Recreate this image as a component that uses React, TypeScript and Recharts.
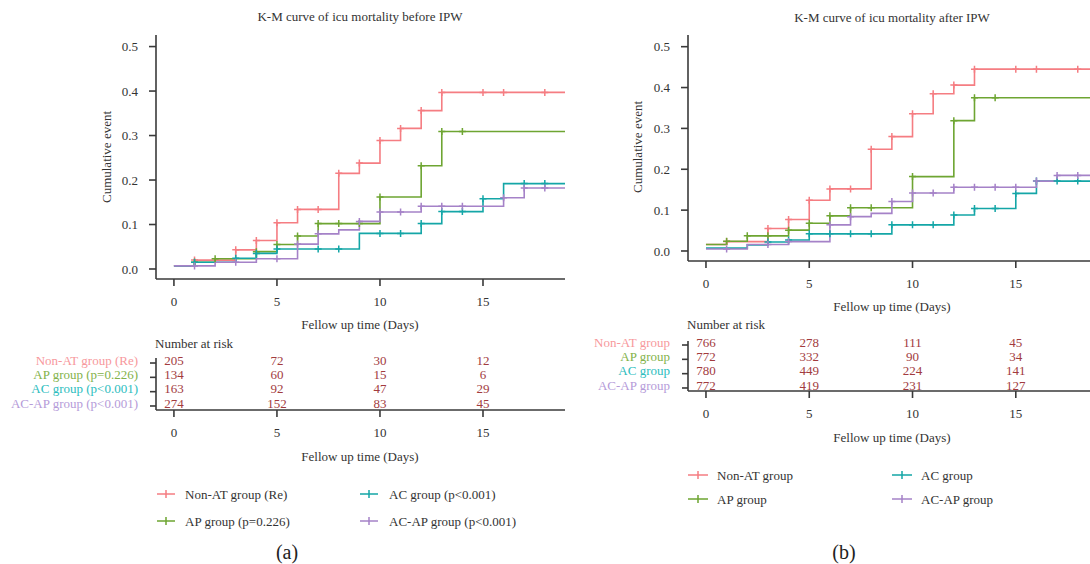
import React from 'react';
import { LineChart, Line, XAxis, YAxis, ScatterChart, Scatter } from 'recharts';

// ---------- data ----------
const GROUPS = ['Non-AT', 'AP', 'AC', 'AC-AP'];
const END_DAY = 19;
const X_TICKS = [0, 5, 10, 15];
const Y_TICKS = [0, 0.1, 0.2, 0.3, 0.4, 0.5];

// (a) before IPW: [day, cumulative event] at each step
const beforeNonAT: [number, number][] = [[0, 0.007], [1, 0.020], [3, 0.043], [4, 0.064], [5, 0.104], [6, 0.134], [8, 0.215], [9, 0.238], [10, 0.289], [11, 0.316], [12, 0.356], [13, 0.397]];
const beforeAP: [number, number][] = [[0, 0.007], [1, 0.015], [2, 0.023], [4, 0.039], [5, 0.055], [6, 0.074], [7, 0.102], [10, 0.162], [12, 0.232], [13, 0.309]];
const beforeAC: [number, number][] = [[0, 0.007], [1, 0.015], [3, 0.024], [4, 0.035], [5, 0.045], [9, 0.080], [12, 0.102], [13, 0.129], [15, 0.158], [16, 0.192]];
const beforeACAP: [number, number][] = [[0, 0.007], [2, 0.015], [4, 0.023], [6, 0.056], [7, 0.079], [8, 0.088], [9, 0.107], [10, 0.128], [12, 0.141], [16, 0.160], [17, 0.182]];
// censor marks (days)
const beforeNonATCens = [1, 3, 4, 5, 6, 7, 8, 9, 10, 11, 12, 13, 15, 16, 18];
const beforeAPCens = [1, 2, 4, 5, 6, 7, 8, 9, 10, 12, 13, 14];
const beforeACCens = [1, 3, 4, 5, 7, 8, 10, 11, 12, 13, 14, 15, 17, 18];
const beforeACAPCens = [1, 3, 5, 6, 7, 9, 10, 11, 12, 13, 14, 16, 17, 18];

// (b) after IPW
const afterNonAT: [number, number][] = [[0, 0.016], [1, 0.023], [3, 0.055], [4, 0.077], [5, 0.124], [6, 0.152], [8, 0.249], [9, 0.280], [10, 0.336], [11, 0.385], [12, 0.406], [13, 0.445]];
const afterAP: [number, number][] = [[0, 0.016], [1, 0.024], [2, 0.037], [4, 0.051], [5, 0.068], [6, 0.086], [7, 0.106], [10, 0.182], [12, 0.319], [13, 0.375]];
const afterAC: [number, number][] = [[0, 0.007], [2, 0.015], [3, 0.022], [4, 0.027], [5, 0.042], [9, 0.064], [12, 0.088], [13, 0.104], [15, 0.141], [16, 0.171]];
const afterACAP: [number, number][] = [[0, 0.005], [2, 0.016], [4, 0.023], [6, 0.064], [7, 0.084], [8, 0.092], [9, 0.121], [10, 0.142], [12, 0.156], [16, 0.171], [17, 0.185]];
const afterNonATCens = [1, 3, 4, 5, 6, 7, 8, 9, 10, 11, 12, 13, 15, 16, 18];
const afterAPCens = [1, 2, 3, 4, 5, 6, 7, 8, 10, 12, 13, 14];
const afterACCens = [3, 4, 5, 6, 7, 8, 9, 10, 11, 12, 13, 14, 15, 16, 17, 18];
const afterACAPCens = [1, 3, 4, 6, 7, 9, 10, 11, 12, 13, 14, 15, 16, 17, 18];

// number at risk
const riskDays = [0, 5, 10, 15];
const beforeRiskNonAT = [205, 72, 30, 12];
const beforeRiskAP = [134, 60, 15, 6];
const beforeRiskAC = [163, 92, 47, 29];
const beforeRiskACAP = [274, 152, 83, 45];
const afterRiskNonAT = [766, 278, 111, 45];
const afterRiskAP = [772, 332, 90, 34];
const afterRiskAC = [780, 449, 224, 141];
const afterRiskACAP = [772, 419, 231, 127];

const beforeLabels = ['Non-AT group (Re)', 'AP group (p=0.226)', 'AC group (p<0.001)', 'AC-AP group (p<0.001)'];
const afterLabels = ['Non-AT group', 'AP group', 'AC group', 'AC-AP group'];

// ---------- styles ----------
const FONT = '"Liberation Serif", "Times New Roman", serif';
const TEXT = '#333333';
const AXIS = '#3a3a3a';
const LINE_COLORS = ['#F57D82', '#6EA532', '#14A6A7', '#A582C8'];
const LABEL_COLORS = ['#F7989C', '#83B24A', '#2CBDBE', '#B59BD9'];
const RISK_COLOR = '#A23B3E';

type Pt = { day: number; v: number; c: boolean };

function buildCurve(steps: [number, number][], cens: number[]): Pt[] {
  const days = Array.from(new Set([...steps.map((s) => s[0]), ...cens, END_DAY])).sort((a, b) => a - b);
  return days.map((d) => {
    let v = steps[0][1];
    for (const s of steps) if (s[0] <= d) v = s[1];
    return { day: d, v, c: cens.includes(d) };
  });
}

function buildRisk(rows: number[][]) {
  const out: { day: number; row: number; n: number }[] = [];
  rows.forEach((vals, gi) => {
    vals.forEach((n, i) => out.push({ day: riskDays[i], row: 4 - gi, n }));
  });
  return out;
}

const makeDot = (color: string) => (props: any) => {
  const { cx, cy, payload, index } = props;
  if (!payload || !payload.c || cx == null || cy == null) return <g key={`n${index}`} />;
  return (
    <path
      key={`d${index}`}
      d={`M${cx - 3.5},${cy}H${cx + 3.5}M${cx},${cy - 3.5}V${cy + 3.5}`}
      stroke={color}
      strokeWidth={1.5}
      fill="none"
    />
  );
};

const tickStyle = { fontFamily: FONT, fontSize: 13, fill: TEXT };

type MainProps = {
  left: number; top: number; width: number; height: number;
  margin: { top: number; right: number; bottom: number; left: number };
  yDomain: [number, number];
  curves: Pt[][];
};

function MainChart({ left, top, width, height, margin, yDomain, curves }: MainProps) {
  return (
    <div style={{ position: 'absolute', left, top, width, height }}>
      <LineChart width={width} height={height} margin={margin}>
        <XAxis
          type="number"
          dataKey="day"
          domain={[-0.87, 18.98]}
          allowDataOverflow
          ticks={X_TICKS}
          interval={0}
          tick={tickStyle}
          tickSize={7}
          tickMargin={11}
          height={30}
          axisLine={{ stroke: AXIS, strokeWidth: 1.6 }}
          tickLine={{ stroke: AXIS, strokeWidth: 1.6 }}
        />
        <YAxis
          type="number"
          dataKey="v"
          domain={yDomain}
          allowDataOverflow
          ticks={Y_TICKS}
          interval={0}
          tickFormatter={(v: number) => v.toFixed(1)}
          tick={tickStyle}
          tickSize={7}
          tickMargin={11}
          width={60}
          axisLine={{ stroke: AXIS, strokeWidth: 1.6 }}
          tickLine={{ stroke: AXIS, strokeWidth: 1.6 }}
        />
        {curves.map((c, i) => (
          <Line
            key={GROUPS[i]}
            name={GROUPS[i]}
            data={c}
            dataKey="v"
            type="stepAfter"
            stroke={LINE_COLORS[i]}
            strokeWidth={1.6}
            dot={makeDot(LINE_COLORS[i])}
            activeDot={false}
            isAnimationActive={false}
          />
        ))}
      </LineChart>
    </div>
  );
}

type RiskProps = {
  left: number; top: number; width: number; height: number;
  margin: { top: number; right: number; bottom: number; left: number };
  yDomain: [number, number];
  data: { day: number; row: number; n: number }[];
  labels: string[];
};

function RiskTable({ left, top, width, height, margin, yDomain, data, labels }: RiskProps) {
  const yTick = (p: any) => {
    const gi = 4 - p.payload.value;
    return (
      <text key={`t${gi}`} x={p.x} y={p.y - 3} dy="0.35em" textAnchor="end" fontFamily={FONT} fontSize={13} fill={LABEL_COLORS[gi]}>
        {labels[gi]}
      </text>
    );
  };
  const numShape = (p: any) => (
    <text x={p.cx} y={p.cy - 3} dy="0.35em" textAnchor="middle" fontFamily={FONT} fontSize={13} fill={RISK_COLOR}>
      {p.payload.n}
    </text>
  );
  return (
    <div style={{ position: 'absolute', left, top, width, height }}>
      <ScatterChart width={width} height={height} margin={margin}>
        <XAxis
          type="number"
          dataKey="day"
          domain={[-0.87, 18.98]}
          ticks={X_TICKS}
          interval={0}
          tick={tickStyle}
          tickSize={7}
          tickMargin={11}
          height={30}
          axisLine={{ stroke: AXIS, strokeWidth: 1.6 }}
          tickLine={{ stroke: AXIS, strokeWidth: 1.6 }}
        />
        <YAxis
          type="number"
          dataKey="row"
          domain={yDomain}
          ticks={[1, 2, 3, 4]}
          interval={0}
          tick={yTick}
          tickSize={6}
          tickMargin={12}
          width={60}
          axisLine={{ stroke: AXIS, strokeWidth: 1.6 }}
          tickLine={{ stroke: AXIS, strokeWidth: 1.6 }}
        />
        <Scatter data={data} shape={numShape} isAnimationActive={false} />
      </ScatterChart>
    </div>
  );
}

const centered = (x: number, y: number, size = 13, extra: any = {}): React.CSSProperties => ({
  position: 'absolute',
  left: x,
  top: y,
  transform: 'translate(-50%, -50%)',
  whiteSpace: 'nowrap',
  lineHeight: 1,
  fontSize: size,
  color: TEXT,
  ...extra,
});

function LegendItem({ x, y, iconW, textX, color, label }: { x: number; y: number; iconW: number; textX: number; color: string; label: string }) {
  return (
    <>
      <svg style={{ position: 'absolute', left: x, top: y - 5 }} width={iconW} height={10}>
        <path d={`M0,5H${iconW}M${iconW / 2},1V9`} stroke={color} strokeWidth={1.5} fill="none" />
      </svg>
      <div style={{ position: 'absolute', left: textX, top: y, transform: 'translateY(-50%)', whiteSpace: 'nowrap', lineHeight: 1, fontSize: 13, color: TEXT }}>
        {label}
      </div>
    </>
  );
}

export default function App() {
  const beforeCurves = [
    buildCurve(beforeNonAT, beforeNonATCens),
    buildCurve(beforeAP, beforeAPCens),
    buildCurve(beforeAC, beforeACCens),
    buildCurve(beforeACAP, beforeACAPCens),
  ];
  const afterCurves = [
    buildCurve(afterNonAT, afterNonATCens),
    buildCurve(afterAP, afterAPCens),
    buildCurve(afterAC, afterACCens),
    buildCurve(afterACAP, afterACAPCens),
  ];
  const beforeRisk = buildRisk([beforeRiskNonAT, beforeRiskAP, beforeRiskAC, beforeRiskACAP]);
  const afterRisk = buildRisk([afterRiskNonAT, afterRiskAP, afterRiskAC, afterRiskACAP]);

  return (
    <div
      style={{
        position: 'fixed',
        left: 0,
        top: 0,
        width: 1090,
        height: 564,
        overflow: 'hidden',
        background: '#ffffff',
        fontFamily: FONT,
      }}
    >
      {/* ----- panel (a) ----- */}
      <div style={centered(360, 16)}>K-M curve of icu mortality before IPW</div>
      <div style={centered(105.7, 157, 13, { transform: 'translate(-50%, -50%) rotate(-90deg)' })}>Cumulative event</div>
      <MainChart
        left={0} top={0} width={580} height={330}
        margin={{ top: 35, right: 15, bottom: 21, left: 96 }}
        yDomain={[-0.0225, 0.526]}
        curves={beforeCurves}
      />
      <div style={centered(360, 324)}>Fellow up time (Days)</div>
      <div style={{ position: 'absolute', left: 155, top: 343, transform: 'translateY(-50%)', lineHeight: 1, fontSize: 13, color: TEXT, whiteSpace: 'nowrap' }}>Number at risk</div>
      <RiskTable
        left={0} top={300} width={580} height={150}
        margin={{ top: 58, right: 15, bottom: 10, left: 96 }}
        yDomain={[0.72, 4.35]}
        data={beforeRisk}
        labels={beforeLabels}
      />
      <div style={centered(360, 456)}>Fellow up time (Days)</div>
      <LegendItem x={157} y={494} iconW={18} textX={185} color={LINE_COLORS[0]} label="Non-AT group (Re)" />
      <LegendItem x={157} y={521} iconW={18} textX={185} color={LINE_COLORS[1]} label="AP group (p=0.226)" />
      <LegendItem x={360} y={494} iconW={18} textX={389} color={LINE_COLORS[2]} label="AC group (p<0.001)" />
      <LegendItem x={360} y={521} iconW={18} textX={389} color={LINE_COLORS[3]} label="AC-AP group (p<0.001)" />
      <div style={centered(287, 552, 20, { color: '#222' })}>(a)</div>

      {/* ----- panel (b) ----- */}
      <div style={centered(892, 17)}>K-M curve of icu mortality after IPW</div>
      <div style={centered(637, 147, 13, { transform: 'translate(-50%, -50%) rotate(-90deg)' })}>Cumulative event</div>
      <MainChart
        left={580} top={0} width={530} height={320}
        margin={{ top: 35, right: 12, bottom: 29, left: 48 }}
        yDomain={[-0.0245, 0.5286]}
        curves={afterCurves}
      />
      <div style={centered(892, 306)}>Fellow up time (Days)</div>
      <div style={{ position: 'absolute', left: 687, top: 324, transform: 'translateY(-50%)', lineHeight: 1, fontSize: 13, color: TEXT, whiteSpace: 'nowrap' }}>Number at risk</div>
      <RiskTable
        left={580} top={300} width={530} height={130}
        margin={{ top: 41, right: 12, bottom: 9, left: 48 }}
        yDomain={[0.79, 4.28]}
        data={afterRisk}
        labels={afterLabels}
      />
      <div style={centered(892, 437)}>Fellow up time (Days)</div>
      <LegendItem x={688} y={475} iconW={20} textX={717} color={LINE_COLORS[0]} label="Non-AT group" />
      <LegendItem x={688} y={499} iconW={20} textX={717} color={LINE_COLORS[1]} label="AP group" />
      <LegendItem x={892} y={475} iconW={20} textX={921} color={LINE_COLORS[2]} label="AC group" />
      <LegendItem x={892} y={499} iconW={20} textX={921} color={LINE_COLORS[3]} label="AC-AP group" />
      <div style={centered(844, 552, 20, { color: '#222' })}>(b)</div>
    </div>
  );
}
